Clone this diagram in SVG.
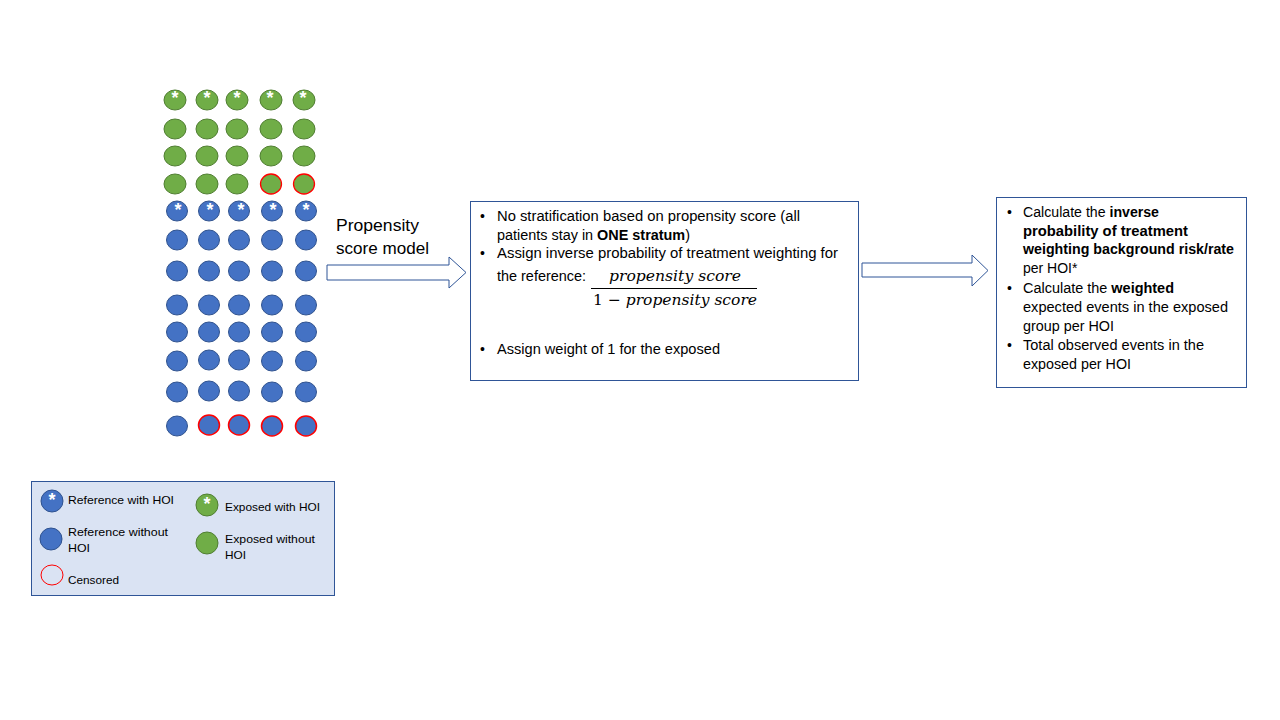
<svg xmlns="http://www.w3.org/2000/svg" width="1280" height="720" viewBox="0 0 1280 720">
<style>
text{font-family:"Liberation Sans",Arial,sans-serif;fill:#000}
.g{fill:#70ad47;stroke:#507e32;stroke-width:1}
.b{fill:#4472c4;stroke:#2f528f;stroke-width:1}
.gc{fill:#70ad47;stroke:#ff0000;stroke-width:1.3}
.bc{fill:#4472c4;stroke:#ff0000;stroke-width:1.5}
.st{fill:#fff;font-size:18px;font-weight:bold;text-anchor:middle}
.box{fill:#fff;stroke:#2f5597;stroke-width:1}
.arr{fill:#fff;stroke:#2f5597;stroke-width:1}
.t{font-size:14px}
.lg{font-size:11.5px}
.m{font-family:"DejaVu Serif","Liberation Serif",serif;font-style:italic;font-size:15px}
</style>
<rect width="1280" height="720" fill="#fff"/>
<g id="cohort">
<g id="exposed">
<ellipse class="g" cx="175" cy="100" rx="11" ry="10"/><ellipse class="g" cx="207" cy="100" rx="11" ry="10"/><ellipse class="g" cx="237" cy="100" rx="11" ry="10"/><ellipse class="g" cx="271" cy="100" rx="11" ry="10"/><ellipse class="g" cx="304" cy="100" rx="11" ry="10"/>
<text class="st" x="175" y="104">*</text><text class="st" x="207" y="104">*</text><text class="st" x="237" y="104">*</text><text class="st" x="270" y="104">*</text><text class="st" x="303" y="104">*</text>
<ellipse class="g" cx="175" cy="129" rx="11" ry="10"/><ellipse class="g" cx="207" cy="129" rx="11" ry="10"/><ellipse class="g" cx="237" cy="129" rx="11" ry="10"/><ellipse class="g" cx="271" cy="129" rx="11" ry="10"/><ellipse class="g" cx="304" cy="129" rx="11" ry="10"/>
<ellipse class="g" cx="175" cy="156" rx="11" ry="10"/><ellipse class="g" cx="207" cy="156" rx="11" ry="10"/><ellipse class="g" cx="237" cy="156" rx="11" ry="10"/><ellipse class="g" cx="271" cy="156" rx="11" ry="10"/><ellipse class="g" cx="304" cy="156" rx="11" ry="10"/>
<ellipse class="g" cx="175" cy="184" rx="11" ry="10"/><ellipse class="g" cx="207" cy="184" rx="11" ry="10"/><ellipse class="g" cx="237" cy="184" rx="11" ry="10"/><ellipse class="gc" cx="271" cy="184" rx="10.5" ry="10"/><ellipse class="gc" cx="304" cy="184" rx="10.5" ry="10"/>
</g>
<g id="reference">
<ellipse class="b" cx="177" cy="211" rx="10.5" ry="10"/><ellipse class="b" cx="209" cy="211" rx="10.5" ry="10"/><ellipse class="b" cx="239" cy="211" rx="10.5" ry="10"/><ellipse class="b" cx="272" cy="211" rx="10.5" ry="10"/><ellipse class="b" cx="306" cy="211" rx="10.5" ry="10"/>
<text class="st" x="178" y="216">*</text><text class="st" x="210" y="216">*</text><text class="st" x="241" y="216">*</text><text class="st" x="273" y="216">*</text><text class="st" x="306" y="216">*</text>
<ellipse class="b" cx="177" cy="240" rx="10.5" ry="10"/><ellipse class="b" cx="209" cy="240" rx="10.5" ry="10"/><ellipse class="b" cx="239" cy="240" rx="10.5" ry="10"/><ellipse class="b" cx="272" cy="240" rx="10.5" ry="10"/><ellipse class="b" cx="306" cy="240" rx="10.5" ry="10"/>
<ellipse class="b" cx="177" cy="271" rx="10.5" ry="10"/><ellipse class="b" cx="209" cy="271" rx="10.5" ry="10"/><ellipse class="b" cx="239" cy="271" rx="10.5" ry="10"/><ellipse class="b" cx="272" cy="271" rx="10.5" ry="10"/><ellipse class="b" cx="306" cy="271" rx="10.5" ry="10"/>
<ellipse class="b" cx="177" cy="305" rx="10.5" ry="10"/><ellipse class="b" cx="209" cy="305" rx="10.5" ry="10"/><ellipse class="b" cx="239" cy="305" rx="10.5" ry="10"/><ellipse class="b" cx="272" cy="305" rx="10.5" ry="10"/><ellipse class="b" cx="306" cy="305" rx="10.5" ry="10"/>
<ellipse class="b" cx="177" cy="332" rx="10.5" ry="10"/><ellipse class="b" cx="209" cy="332" rx="10.5" ry="10"/><ellipse class="b" cx="239" cy="332" rx="10.5" ry="10"/><ellipse class="b" cx="272" cy="332" rx="10.5" ry="10"/><ellipse class="b" cx="306" cy="332" rx="10.5" ry="10"/>
<ellipse class="b" cx="177" cy="361" rx="10.5" ry="10"/><ellipse class="b" cx="209" cy="360" rx="10.5" ry="10"/><ellipse class="b" cx="239" cy="360" rx="10.5" ry="10"/><ellipse class="b" cx="272" cy="361" rx="10.5" ry="10"/><ellipse class="b" cx="306" cy="361" rx="10.5" ry="10"/>
<ellipse class="b" cx="177" cy="392" rx="10.5" ry="10"/><ellipse class="b" cx="209" cy="391" rx="10.5" ry="10"/><ellipse class="b" cx="239" cy="391" rx="10.5" ry="10"/><ellipse class="b" cx="272" cy="392" rx="10.5" ry="10"/><ellipse class="b" cx="306" cy="392" rx="10.5" ry="10"/>
<ellipse class="b" cx="177" cy="426" rx="10.5" ry="10"/><ellipse class="bc" cx="209" cy="425" rx="10.5" ry="10"/><ellipse class="bc" cx="239" cy="425" rx="10.5" ry="10"/><ellipse class="bc" cx="272" cy="426" rx="10.5" ry="10"/><ellipse class="bc" cx="306" cy="426" rx="10.5" ry="10"/>
</g>
</g>
<g id="connectors">
<polygon class="arr" points="327,265 449,265 449,257 466,272.5 449,288 449,280 327,280"/>
<polygon class="arr" points="862,263 972,263 972,255 988,270.5 972,286 972,277 862,277"/>
</g>
<g id="label-model">
<text x="336" y="231" style="font-size:17px" textLength="83" lengthAdjust="spacingAndGlyphs">Propensity</text>
<text x="336" y="254" style="font-size:17px" textLength="93" lengthAdjust="spacingAndGlyphs">score model</text>
</g>
<g id="box-weighting">
<rect class="box" x="470.5" y="201.5" width="388" height="179"/>
<text class="t" x="480" y="221">•</text>
<text class="t" x="497" y="221" textLength="303" lengthAdjust="spacingAndGlyphs">No stratification based on propensity score (all</text>
<text class="t" x="497" y="240" textLength="193" lengthAdjust="spacingAndGlyphs">patients stay in <tspan font-weight="bold">ONE stratum</tspan>)</text>
<text class="t" x="480" y="258">•</text>
<text class="t" x="497" y="258" textLength="341" lengthAdjust="spacingAndGlyphs">Assign inverse probability of treatment weighting for</text>
<text class="t" x="497" y="281" textLength="89" lengthAdjust="spacingAndGlyphs">the reference:</text>
<text class="m" x="609" y="281" textLength="132" lengthAdjust="spacingAndGlyphs">propensity score</text>
<line x1="591" y1="288.5" x2="757" y2="288.5" stroke="#000" stroke-width="1"/>
<text class="m" x="593" y="305" textLength="164" lengthAdjust="spacingAndGlyphs"><tspan font-style="normal">1 −</tspan> propensity score</text>
<text class="t" x="480" y="354">•</text>
<text class="t" x="497" y="354" textLength="223" lengthAdjust="spacingAndGlyphs">Assign weight of 1 for the exposed</text>
</g>
<g id="box-calc">
<rect class="box" x="996.5" y="197.5" width="250" height="190"/>
<text class="t" x="1007" y="217">•</text>
<text class="t" x="1023" y="217" textLength="136" lengthAdjust="spacingAndGlyphs">Calculate the <tspan font-weight="bold">inverse</tspan></text>
<text class="t" x="1023" y="236" font-weight="bold" textLength="165" lengthAdjust="spacingAndGlyphs">probability of treatment</text>
<text class="t" x="1023" y="254" font-weight="bold" textLength="211" lengthAdjust="spacingAndGlyphs">weighting background risk/rate</text>
<text class="t" x="1023" y="273">per HOI*</text>
<text class="t" x="1007" y="293">•</text>
<text class="t" x="1023" y="293" textLength="151" lengthAdjust="spacingAndGlyphs">Calculate the <tspan font-weight="bold">weighted</tspan></text>
<text class="t" x="1023" y="312" textLength="205" lengthAdjust="spacingAndGlyphs">expected events in the exposed</text>
<text class="t" x="1023" y="331" textLength="91" lengthAdjust="spacingAndGlyphs">group per HOI</text>
<text class="t" x="1007" y="350">•</text>
<text class="t" x="1023" y="350" textLength="181" lengthAdjust="spacingAndGlyphs">Total observed events in the</text>
<text class="t" x="1023" y="369" textLength="108" lengthAdjust="spacingAndGlyphs">exposed per HOI</text>
</g>
<g id="legend">
<rect x="31.5" y="481.5" width="303" height="114" fill="#dae3f3" stroke="#2f5597" stroke-width="1"/>
<ellipse class="b" cx="52" cy="501" rx="11" ry="11"/>
<text class="st" x="52" y="506">*</text>
<text class="lg" x="68" y="504" textLength="106" lengthAdjust="spacingAndGlyphs">Reference  with HOI</text>
<ellipse class="b" cx="51" cy="539" rx="11" ry="11"/>
<text class="lg" x="68" y="536" textLength="100" lengthAdjust="spacingAndGlyphs">Reference  without</text>
<text class="lg" x="68" y="552" textLength="22" lengthAdjust="spacingAndGlyphs">HOI</text>
<ellipse cx="52" cy="575" rx="11" ry="10" fill="none" stroke="#ff0000" stroke-width="1"/>
<text class="lg" x="68" y="584" textLength="51" lengthAdjust="spacingAndGlyphs">Censored</text>
<ellipse class="g" cx="207" cy="505" rx="11" ry="11"/>
<text class="st" x="207" y="510">*</text>
<text class="lg" x="225" y="511" textLength="95" lengthAdjust="spacingAndGlyphs">Exposed with HOI</text>
<ellipse class="g" cx="207" cy="543" rx="11" ry="11"/>
<text class="lg" x="225" y="543" textLength="90" lengthAdjust="spacingAndGlyphs">Exposed without</text>
<text class="lg" x="225" y="559" textLength="21" lengthAdjust="spacingAndGlyphs">HOI</text>
</g>
</svg>
